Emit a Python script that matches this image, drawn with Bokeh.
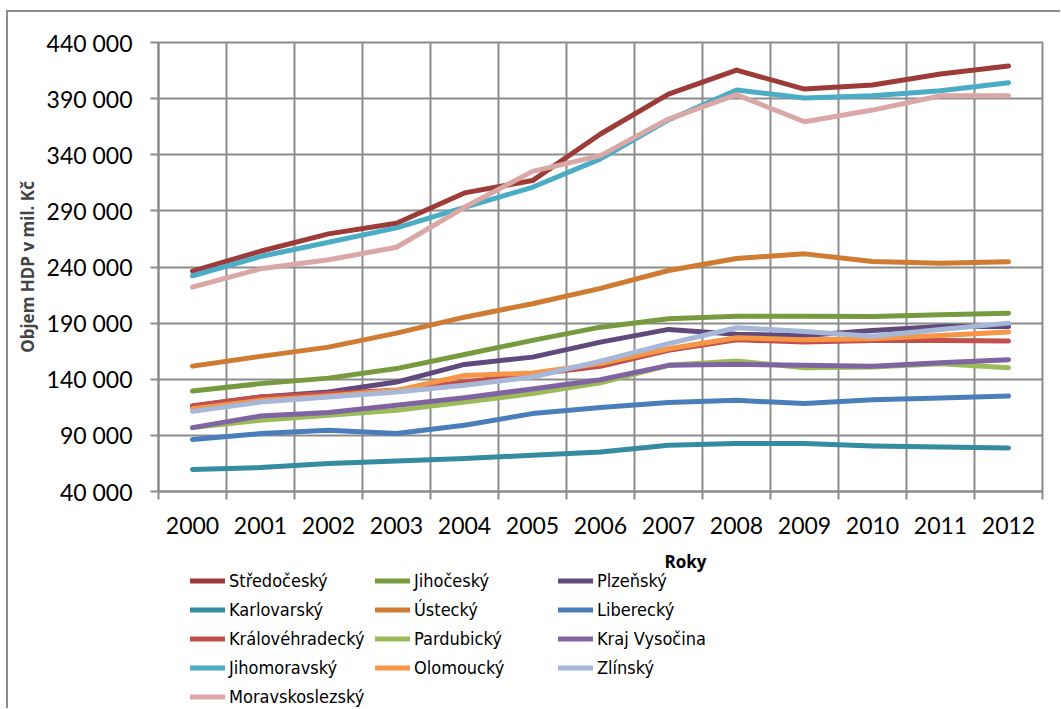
from bokeh.plotting import figure
from bokeh.models import Range1d, FixedTicker, Legend, LegendItem, Label
from bokeh.layouts import column
from bokeh.embed import file_html
from bokeh.resources import INLINE

years = ["2000", "2001", "2002", "2003", "2004", "2005", "2006",
         "2007", "2008", "2009", "2010", "2011", "2012"]
y_ticks = [40000, 90000, 140000, 190000, 240000, 290000, 340000, 390000, 440000]
y_tick_labels = ["40 000", "90 000", "140 000", "190 000", "240 000",
                 "290 000", "340 000", "390 000", "440 000"]

stredocesky = [236300, 254000, 269500, 279000, 306000, 317000, 358500, 394000, 415400, 398500, 402100, 411900, 419000]
jihocesky = [129500, 136100, 141000, 149500, 162100, 174600, 186400, 193900, 196200, 196200, 196000, 197500, 198900]
plzensky = [115900, 124200, 128600, 137500, 153200, 159700, 173100, 184400, 180000, 179000, 183500, 187000, 187000]
karlovarsky = [59600, 61300, 64900, 67200, 69300, 72300, 75200, 81200, 82700, 82700, 80600, 79700, 78800]
ustecky = [151700, 160400, 168600, 181100, 195300, 207300, 221000, 236900, 247600, 251700, 244900, 243400, 244600]
liberecky = [86300, 91600, 94500, 91600, 99000, 109400, 114800, 119200, 121200, 118300, 121800, 123300, 125000]
kralovehradecky = [116500, 124200, 127200, 130100, 137500, 144300, 151500, 165700, 175200, 173100, 174600, 174600, 174000]
pardubicky = [96900, 103400, 107900, 112300, 119700, 127200, 136800, 152400, 156200, 150300, 150900, 153900, 150300]
vysocina = [96900, 107200, 110300, 116800, 123600, 131300, 139500, 152400, 153300, 152400, 151500, 154800, 157400]
jihomoravsky = [232200, 249300, 262000, 274900, 293200, 311000, 336300, 371000, 397600, 390500, 392600, 397000, 404100]
olomoucky = [113800, 121200, 125000, 130100, 143400, 145500, 153900, 167200, 177000, 175200, 176100, 179000, 182000]
zlinsky = [111400, 119700, 124200, 128600, 134600, 142000, 156000, 171700, 185900, 182600, 178400, 184400, 190000]
moravskoslezsky = [222000, 238400, 246400, 257600, 293200, 325200, 339200, 371800, 393500, 369400, 379800, 392600, 392600]

regions = ["Středočeský", "Jihočeský", "Plzeňský", "Karlovarský", "Ústecký",
           "Liberecký", "Královéhradecký", "Pardubický", "Kraj Vysočina",
           "Jihomoravský", "Olomoucký", "Zlínský", "Moravskoslezský"]
series = [stredocesky, jihocesky, plzensky, karlovarsky, ustecky, liberecky,
          kralovehradecky, pardubicky, vysocina, jihomoravsky, olomoucky,
          zlinsky, moravskoslezsky]
colors = ["#9C3B37", "#789A3F", "#604A7B", "#358B9F", "#CF7B32", "#4A7EBB",
          "#C0504D", "#9BBB59", "#8064A2", "#4BACC6", "#F79646", "#A7B7D8",
          "#D9A7A6"]

GRID = "#8C8C8C"
TICK_FONT = "Lato, 'Open Sans', sans-serif"
TITLE_FONT = "'Open Sans', Lato, sans-serif"
LEG_FONT = "'DejaVu Sans Condensed', 'Liberation Sans Narrow', Lato, sans-serif"

n = len(years)
x_pos = [i + 0.5 for i in range(n)]

OX, OY = 8, 12          # content origin inside the outer border
W = 1052
H1 = 533
H2 = 163
FL, FR = 158, 1042      # plot-area left / right edge on the page

p = figure(width=W, height=H1, output_backend="svg", toolbar_location=None,
           x_range=Range1d(0, n), y_range=Range1d(y_ticks[0], y_ticks[-1]),
           min_border_left=FL - OX, min_border_right=OX + W - FR,
           min_border_top=42 - OY, min_border_bottom=OY + H1 - 491)
p.background_fill_color = "white"
p.border_fill_color = "white"
p.outline_line_color = GRID
p.outline_line_width = 2

# y axis
p.yaxis.ticker = FixedTicker(ticks=y_ticks)
p.yaxis.major_label_overrides = {t: l for t, l in zip(y_ticks, y_tick_labels)}
p.yaxis.major_label_text_font = TICK_FONT
p.yaxis.major_label_text_font_size = "23px"
p.yaxis.major_label_text_color = "black"
p.yaxis.major_tick_out = 8
p.yaxis.major_tick_in = 0
p.yaxis.minor_tick_out = 0
p.yaxis.minor_tick_in = 0
p.yaxis.major_tick_line_color = GRID
p.yaxis.major_tick_line_width = 2
p.yaxis.axis_line_color = GRID
p.yaxis.axis_line_width = 2
p.yaxis.major_label_standoff = 18
p.yaxis.axis_label = "Objem HDP v mil. Kč"
p.yaxis.axis_label_text_font = TITLE_FONT
p.yaxis.axis_label_text_font_style = "bold"
p.yaxis.axis_label_text_font_size = "17px"
p.yaxis.axis_label_standoff = 5

# x axis
p.xaxis.ticker = FixedTicker(ticks=x_pos, minor_ticks=list(range(n + 1)))
p.xaxis.major_label_overrides = {x: y for x, y in zip(x_pos, years)}
p.xaxis.major_label_text_font = TICK_FONT
p.xaxis.major_label_text_font_size = "23px"
p.xaxis.major_label_text_color = "black"
p.xaxis.major_tick_out = 0
p.xaxis.major_tick_in = 0
p.xaxis.minor_tick_out = 8
p.xaxis.minor_tick_in = 0
p.xaxis.minor_tick_line_color = GRID
p.xaxis.minor_tick_line_width = 2
p.xaxis.axis_line_color = GRID
p.xaxis.axis_line_width = 2
p.xaxis.major_label_standoff = 17

p.xgrid.ticker = FixedTicker(ticks=list(range(n + 1)))
p.xgrid.grid_line_color = GRID
p.xgrid.grid_line_width = 2
p.ygrid.grid_line_color = GRID
p.ygrid.grid_line_width = 2

for vals, col in zip(series, colors):
    p.line(x_pos, vals, line_color=col, line_width=5,
           line_cap="round", line_join="round")

# lower panel (its plot area is aligned with the chart's): axis title + legend.
# The same series are drawn here too, but outside its value window.
top2 = OY + H1
q = figure(width=W, height=H2, output_backend="svg", toolbar_location=None,
           x_range=Range1d(FL, FR), y_range=Range1d(top2 + H2, top2),
           x_axis_location=None, y_axis_location=None,
           min_border=0, outline_line_color=None)
q.grid.visible = False
q.background_fill_color = "white"
q.border_fill_color = "white"
legend_renderers = []
for vals, col in zip(series, colors):
    legend_renderers.append(q.line(x_pos, vals, line_color=col, line_width=5,
                                   line_cap="round"))

q.add_layout(Label(x=685, y=561, text="Roky", text_font=TITLE_FONT,
                   text_font_style="bold", text_font_size="17px",
                   text_align="center", text_baseline="middle",
                   text_color="black"))

col_x = [190, 375, 558]
h = 21
sp = 8
first_top = 569.5
for j in range(3):
    idx = list(range(j, len(regions), 3))
    items = [LegendItem(label=regions[k], renderers=[legend_renderers[k]])
             for k in idx]
    total = len(idx) * h + (len(idx) - 1) * sp
    bottom = first_top + total
    leg = Legend(items=items, location=(col_x[j] - FL, top2 + H2 - bottom),
                 orientation="vertical", border_line_color=None,
                 background_fill_alpha=0, padding=0, margin=0, spacing=sp,
                 glyph_width=35, glyph_height=h, label_height=h,
                 label_standoff=4, label_text_font=LEG_FONT,
                 label_text_font_size="18px", label_text_color="black")
    q.add_layout(leg)

layout = column(p, q, spacing=0,
                styles={"margin-left": "6px", "margin-top": "10px",
                        "border-left": "2px solid #8C8C8C",
                        "border-top": "2px solid #8C8C8C"})
open("out.html", "w").write(file_html(layout, INLINE))
